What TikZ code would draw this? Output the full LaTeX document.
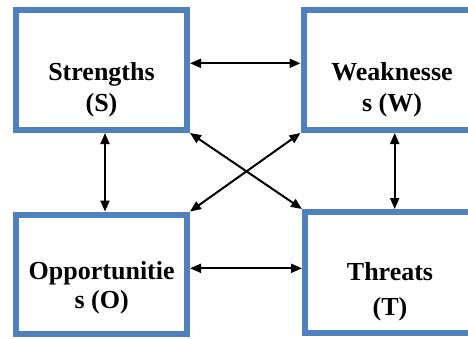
\documentclass[tikz,border=0pt]{standalone}
\usepackage{fontspec}
\setmainfont{Liberation Serif}
\usetikzlibrary{arrows.meta,calc}
\definecolor{boxblue}{HTML}{4F81BD}
\begin{document}
\begin{tikzpicture}[x=1pt,y=1pt,
  box/.style={draw=boxblue,line width=6pt,rectangle,inner sep=0pt,fill=white},
  lbl/.style={font=\fontsize{26}{30}\selectfont\bfseries,inner sep=0pt,anchor=base},
  arr/.style={line width=2pt,{Triangle[length=11pt,width=9pt]}-{Triangle[length=11pt,width=9pt]}}]
\clip (0,0) rectangle (468,338);
\fill[white] (0,0) rectangle (468,338);
\node[box,minimum width=171pt,minimum height=120pt] (S) at (101.5,268) {};
\node[box,minimum width=177pt,minimum height=120pt] (W) at (392,268) {};
\node[box,minimum width=171pt,minimum height=119pt] (O) at (101.5,64) {};
\node[box,minimum width=175pt,minimum height=120.5pt] (T) at (392.5,65.75) {};
\node[lbl] (s1) at (101.5,258) {Strengths};
\node[lbl] (s2) at (101.5,226.3) {(S)};
\node[lbl] (w1) at (392,258) {Weaknesse};
\node[lbl] (w2) at (392,226.3) {s (W)};
\node[lbl] (o1) at (101.7,58.3) {Opportunitie};
\node[lbl] (o2) at (101.7,29.7) {s (O)};
\node[lbl] (t1) at (390,57.3) {Threats};
\node[lbl] (t2) at (390,22.3) {(T)};
\draw[arr] ([yshift=6.7pt]S.east) -- ([yshift=6.7pt]W.west);
\draw[arr] ([yshift=5.7pt]O.east) -- ([yshift=5.7pt]O.east -| T.west);
\draw[arr] ([xshift=3.5pt]S.south) -- ([xshift=3.5pt]S.south |- O.north);
\draw[arr] ([xshift=2.7pt]W.south) -- ([xshift=2.7pt]W.south |- T.north);
\draw[arr] (S.south east) -- (T.north west);
\draw[arr] (O.north east) -- (W.south west);
\end{tikzpicture}
\end{document}
